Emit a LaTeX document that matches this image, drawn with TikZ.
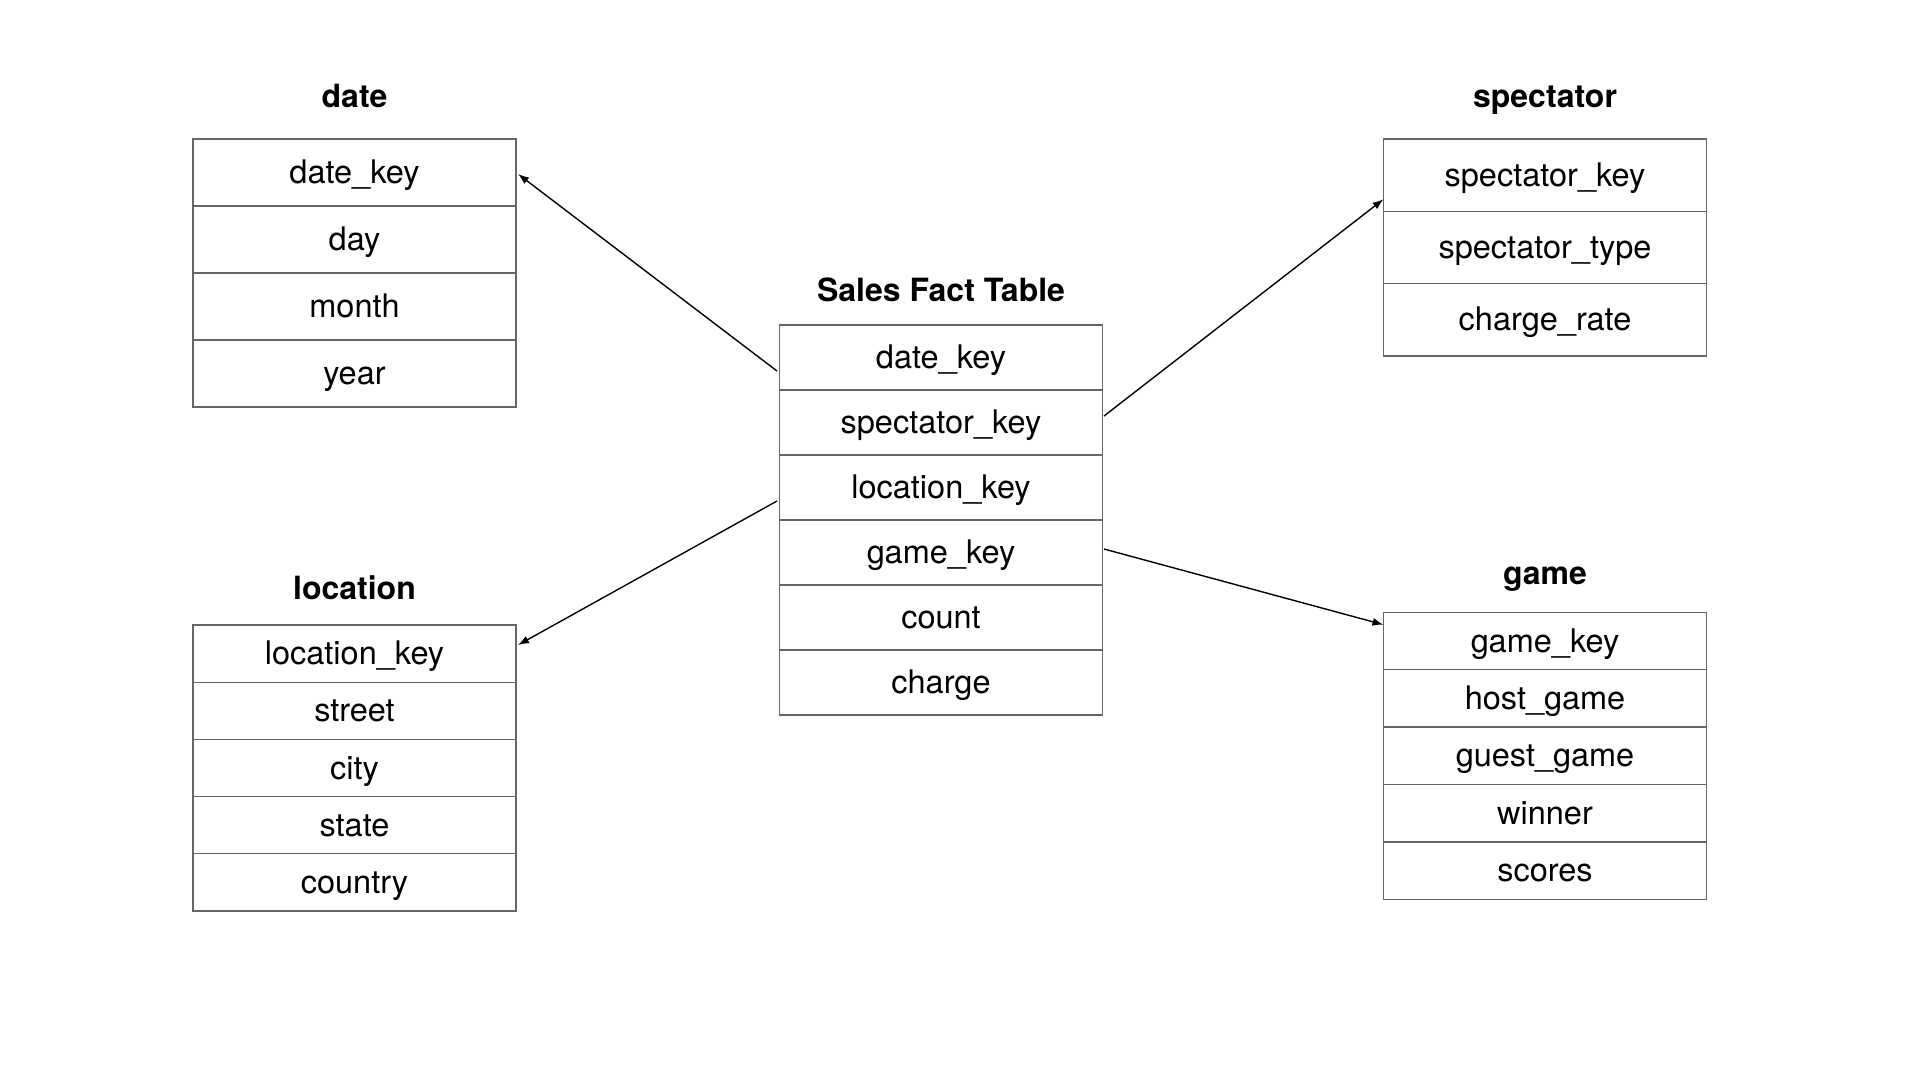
\documentclass[tikz,border=0pt]{standalone}
\usepackage{fontspec}
\setmainfont{TeX Gyre Heros}
\usetikzlibrary{positioning,arrows.meta}

\begin{document}
\begin{tikzpicture}
  [x=1pt,y=-1pt,
   every node/.style={inner sep=0pt,outer sep=0pt,font=\fontsize{32.5}{38}\selectfont},
   cell/.style={draw=black!60,line width=1.3pt,minimum width=323pt,text height=22pt,text depth=0pt},
   title/.style={anchor=base,font=\fontsize{32}{38}\selectfont\bfseries},
   link/.style={-{Latex[length=11pt,width=8pt]},line width=1.4pt}]
  \useasboundingbox (0,0) rectangle (1920,1080);

  % date
  \node[title] (tdate) at (354.5,107) {date};
  \node[cell,minimum height=67pt] (d1) at (354.5,172.5) {date\_key};
  \node[cell,minimum height=67pt,below=0pt of d1] (d2) {day};
  \node[cell,minimum height=67pt,below=0pt of d2] (d3) {month};
  \node[cell,minimum height=67pt,below=0pt of d3] (d4) {year};

  % spectator
  \node[title] (tspec) at (1545,107) {spectator};
  \node[cell,minimum height=72.3pt] (s1) at (1545,175.2) {spectator\_key};
  \node[cell,minimum height=72.3pt,below=0pt of s1] (s2) {spectator\_type};
  \node[cell,minimum height=72.3pt,below=0pt of s2] (s3) {charge\_rate};

  % fact table
  \node[title] (tfact) at (941,301.5) {Sales Fact Table};
  \node[cell,minimum height=65pt] (f1) at (941,357.5) {date\_key};
  \node[cell,minimum height=65pt,below=0pt of f1] (f2) {spectator\_key};
  \node[cell,minimum height=65pt,below=0pt of f2] (f3) {location\_key};
  \node[cell,minimum height=65pt,below=0pt of f3] (f4) {game\_key};
  \node[cell,minimum height=65pt,below=0pt of f4] (f5) {count};
  \node[cell,minimum height=65pt,below=0pt of f5] (f6) {charge};

  % location
  \node[title] (tloc) at (354.5,599) {location};
  \node[cell,minimum height=57.2pt] (l1) at (354.5,653.6) {location\_key};
  \node[cell,minimum height=57.2pt,below=0pt of l1] (l2) {street};
  \node[cell,minimum height=57.2pt,below=0pt of l2] (l3) {city};
  \node[cell,minimum height=57.2pt,below=0pt of l3] (l4) {state};
  \node[cell,minimum height=57.2pt,below=0pt of l4] (l5) {country};

  % game
  \node[title] (tgame) at (1545,584) {game};
  \node[cell,minimum height=57.4pt] (g1) at (1545,641) {game\_key};
  \node[cell,minimum height=57.4pt,below=0pt of g1] (g2) {host\_game};
  \node[cell,minimum height=57.4pt,below=0pt of g2] (g3) {guest\_game};
  \node[cell,minimum height=57.4pt,below=0pt of g3] (g4) {winner};
  \node[cell,minimum height=57.4pt,below=0pt of g4] (g5) {scores};

  \draw[link] ([xshift=-2.5pt,yshift=-13.5pt]f1.west) -- ([xshift=2pt,yshift=-1.5pt]d1.east);
  \draw[link] ([xshift=1.5pt,yshift=6.5pt]f2.east) -- ([yshift=-24pt]s1.west);
  \draw[link] ([xshift=-2.5pt,yshift=-13.5pt]f3.west) -- ([xshift=2pt,yshift=8.6pt]l1.east);
  \draw[link] ([xshift=1.5pt,yshift=3.5pt]f4.east) -- ([yshift=16.3pt]g1.west);

\end{tikzpicture}
\end{document}
